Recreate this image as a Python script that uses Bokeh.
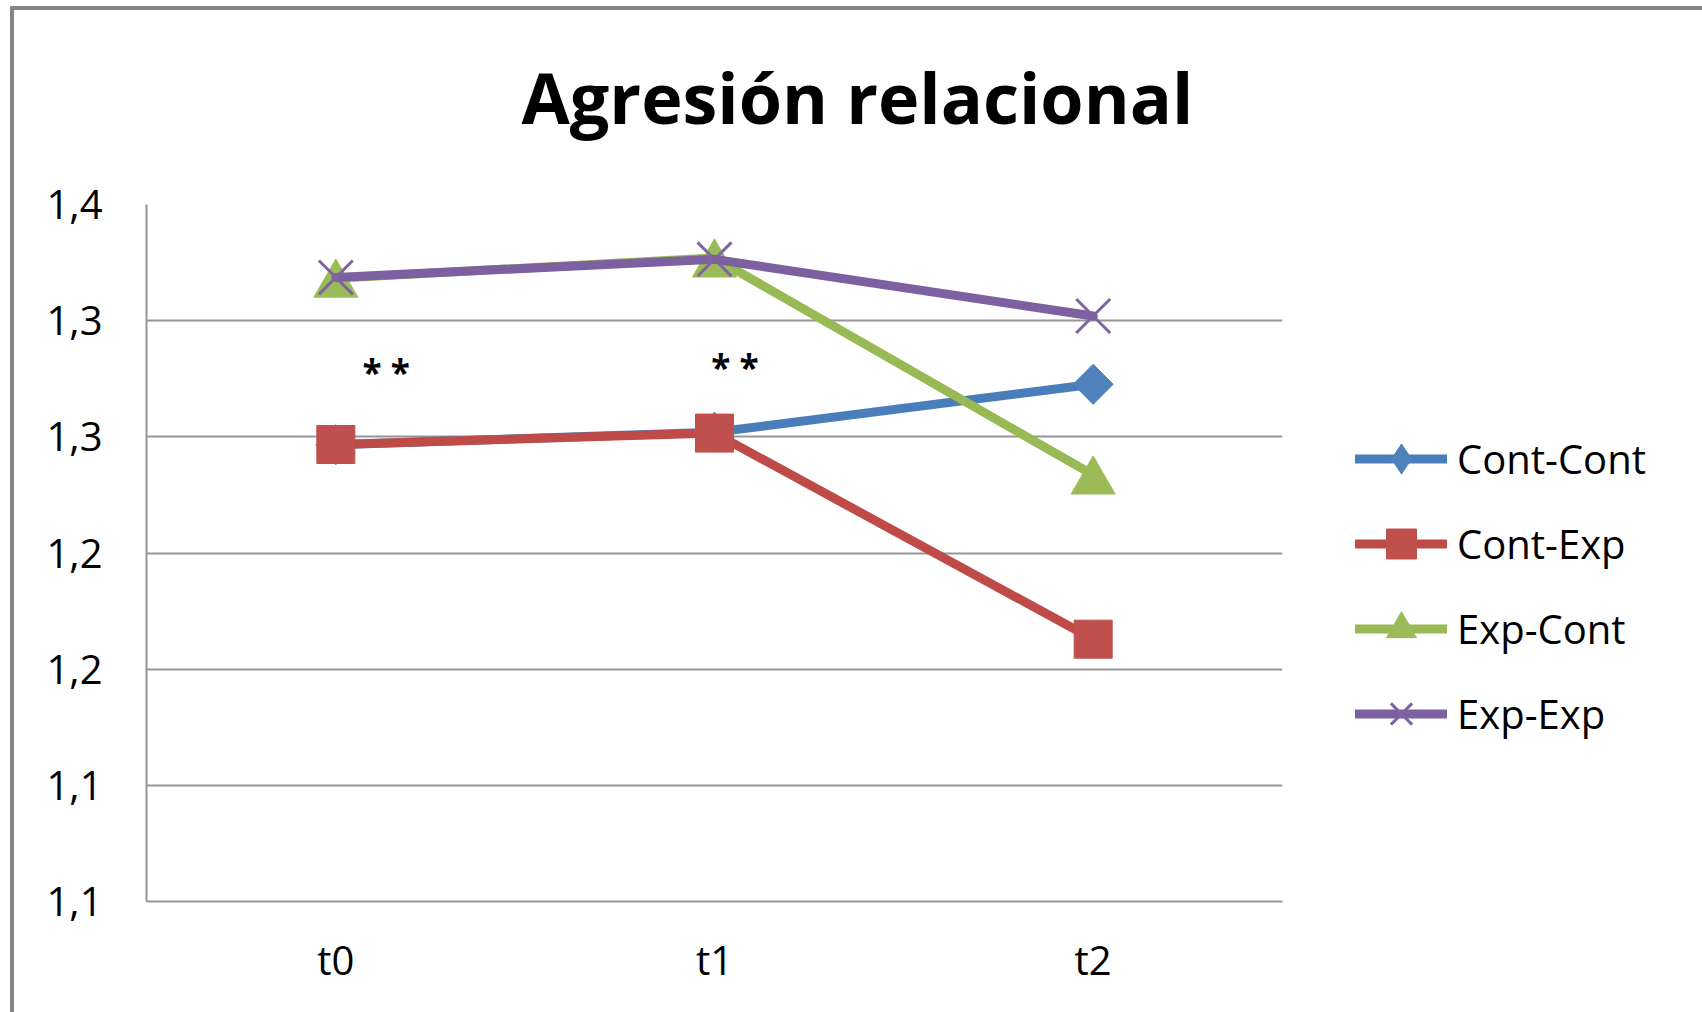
from bokeh.plotting import figure
from bokeh.models import (ColumnDataSource, FixedTicker, Legend, LegendItem,
                          Range1d, FactorRange, Title)
from bokeh.transform import dodge
from bokeh.core.properties import value
from bokeh.embed import file_html
from bokeh.resources import INLINE
import math

# ---------------- data ----------------
title_text = "Agresión relacional"
categories = ["t0", "t1", "t2"]
series_names = ["Cont-Cont", "Cont-Exp", "Exp-Cont", "Exp-Exp"]
cont_cont = [1.2966, 1.3020, 1.3226]
cont_exp = [1.2967, 1.3016, 1.2129]
exp_cont = [1.3683, 1.3770, 1.2836]
exp_exp = [1.3686, 1.3764, 1.3520]
y_ticks = [1.10, 1.15, 1.20, 1.25, 1.30, 1.35, 1.40]
y_tick_labels = ["1,1", "1,1", "1,2", "1,2", "1,3", "1,3", "1,4"]
sig_labels = ["* *", "* *"]
sig_categories = ["t0", "t1"]
sig_offsets = [0.133, 0.054]
sig_values = [1.3293, 1.3316]

# ---------------- style ----------------
FONT = "Open Sans"
BLUE, RED, GREEN, PURPLE = "#4A7EBB", "#BE4B48", "#98B954", "#7D60A0"
BLUE_M, RED_M, GREEN_M, PURPLE_M = "#4F81BD", "#C0504D", "#9BBB59", "#8064A2"
GRID = "#969696"

p = figure(
    x_range=FactorRange(*categories),
    y_range=Range1d(y_ticks[0], y_ticks[-1]),
    frame_width=1136, frame_height=697,
    min_border_left=132, min_border_top=194, min_border_right=412,
    min_border_bottom=112,
    output_backend="svg", toolbar_location=None,
    background_fill_color="white", border_fill_color="white",
)
p.styles = {"border": "4px solid #868686", "border-bottom-width": "0px",
            "margin-left": "10px", "margin-top": "6px"}
p.outline_line_color = None

# title: a thin spacer next to the frame, then the real title above it
spacer = Title(text=" ", text_font_size="1px", standoff=57)
p.add_layout(spacer, "above")
main_title = Title(text=title_text, text_font=FONT, text_font_style="bold",
                   text_font_size="70px", text_color="black", align="left",
                   offset=375, vertical_align="bottom", standoff=0)
p.add_layout(main_title, "above")

# axes
p.yaxis.ticker = FixedTicker(ticks=y_ticks)
p.yaxis.major_label_overrides = {t: l for t, l in zip(y_ticks, y_tick_labels)}
for ax in (p.xaxis[0], p.yaxis[0]):
    ax.axis_line_color = GRID
    ax.axis_line_width = 2
    ax.major_tick_line_color = None
    ax.minor_tick_line_color = None
    ax.major_tick_out = 0
    ax.major_tick_in = 0
    ax.minor_tick_out = 0
    ax.major_label_text_font = FONT
    ax.major_label_text_font_size = "40px"
    ax.major_label_text_color = "black"
p.yaxis.major_label_standoff = 44
p.xaxis.major_label_standoff = 30

p.xgrid.grid_line_color = None
p.ygrid.grid_line_color = GRID
p.ygrid.grid_line_width = 2

# ---------------- series ----------------
LW = 9
src = ColumnDataSource(dict(x=categories, cc=cont_cont, ce=cont_exp,
                            ec=exp_cont, ee=exp_exp))

px_per_unit = 697 / (y_ticks[-1] - y_ticks[0])

items = []
# Cont-Cont
l1 = p.line("x", "cc", source=src, line_color=BLUE, line_width=LW,
            line_join="round", line_cap="round")
m1 = p.scatter("x", "cc", source=src, marker="square", angle=math.pi / 4,
               size=28.3, fill_color=BLUE_M, line_color=BLUE_M)
# legend-only diamond (no visible point in the plot)
lg_src = ColumnDataSource(dict(x=[categories[0]], y=[float("nan")]))
lg1 = p.scatter("x", "y", source=lg_src, marker="diamond", size=30,
                fill_color=BLUE_M, line_color=BLUE_M)
items.append(LegendItem(label=series_names[0], renderers=[l1, lg1]))

# Cont-Exp
l2 = p.line("x", "ce", source=src, line_color=RED, line_width=LW,
            line_join="round", line_cap="round")
m2 = p.scatter("x", "ce", source=src, marker="square", size=38,
               fill_color=RED_M, line_color=RED_M)
items.append(LegendItem(label=series_names[1], renderers=[l2, m2]))

# Exp-Cont
tri_size = 44
tri_shift = (tri_size * math.sqrt(3) / 2) / 6 / px_per_unit
l3 = p.line("x", "ec", source=src, line_color=GREEN, line_width=LW,
            line_join="round", line_cap="round")
m3 = p.scatter("x", dodge("ec", -tri_shift, range=p.y_range), source=src,
               marker="triangle", size=tri_size, fill_color=GREEN_M,
               line_color=GREEN_M)
items.append(LegendItem(label=series_names[2], renderers=[l3, m3]))

# Exp-Exp
l4 = p.line("x", "ee", source=src, line_color=PURPLE, line_width=LW,
            line_join="round", line_cap="round")
m4 = p.scatter("x", "ee", source=src, marker="x", size=48,
               line_color=PURPLE_M, line_width=3)
items.append(LegendItem(label=series_names[3], renderers=[l4, m4]))

# significance marks
for lab, cat, off, yv in zip(sig_labels, sig_categories, sig_offsets, sig_values):
    s = ColumnDataSource(dict(x=[cat], y=[yv], t=[lab]))
    p.text(x=dodge("x", off, range=p.x_range), y="y", text="t", source=s,
           text_font=value(FONT), text_font_style="bold",
           text_font_size="35px", text_color="black",
           text_align="center", text_baseline="middle", y_offset=3)

legend = Legend(items=items, location=(73, 150), glyph_width=92,
                glyph_height=75, spacing=10, padding=0, margin=0,
                label_standoff=10, label_text_font=FONT,
                label_text_font_size="40px", label_text_color="black",
                border_line_color=None, background_fill_alpha=0)
p.add_layout(legend, "right")

open("out.html", "w").write(file_html(p, INLINE))
